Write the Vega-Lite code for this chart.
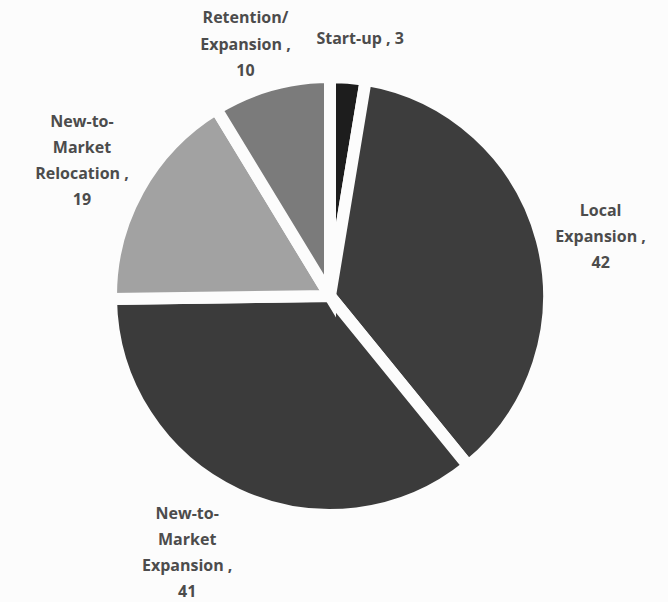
{
  "$schema": "https://vega.github.io/schema/vega-lite/v6.json",
  "width": 660,
  "height": 592,
  "autosize": "none",
  "padding": {"left": 0, "top": 0, "right": 8, "bottom": 10},
  "background": "#fcfcfc",
  "view": {"stroke": null},
  "data": {
    "values": [
      {"category": "Start-up", "label": "Start-up , 3", "count": 3, "order": 1},
      {"category": "Local Expansion", "label": "Local|Expansion ,|42", "count": 42, "order": 2},
      {"category": "New-to-Market Expansion", "label": "New-to-|Market|Expansion ,|41", "count": 41, "order": 3},
      {"category": "New-to-Market Relocation", "label": "New-to-|Market|Relocation ,|19", "count": 19, "order": 4},
      {"category": "Retention/Expansion", "label": "Retention/|Expansion ,|10", "count": 10, "order": 5}
    ]
  },
  "transform": [
    {"stack": "count", "groupby": [], "sort": [{"field": "order", "order": "ascending"}], "as": ["start", "end"]},
    {"calculate": "(datum.start + datum.end) / 2", "as": "mid"}
  ],
  "resolve": {"scale": {"theta": "shared"}},
  "layer": [
    {
      "mark": {"type": "arc", "outerRadius": 219, "stroke": "#fcfcfc", "strokeWidth": 12},
      "encoding": {
        "theta": {"field": "end", "type": "quantitative", "stack": null, "scale": {"zero": true}},
        "theta2": {"field": "start"},
        "color": {
          "field": "category",
          "type": "nominal",
          "legend": null,
          "scale": {
            "domain": ["Start-up", "Local Expansion", "New-to-Market Expansion", "New-to-Market Relocation", "Retention/Expansion"],
            "range": ["#1d1d1d", "#3d3d3d", "#3b3b3b", "#a2a2a2", "#7b7b7b"]
          }
        }
      }
    },
    {
      "transform": [{"filter": "datum.category === 'Start-up'"}],
      "mark": {"type": "text", "radius": 258, "dx": 9, "dy": 0, "font": "Open Sans", "fontWeight": "bold", "fontSize": 16, "lineHeight": 26, "lineBreak": "|", "align": "center", "baseline": "middle", "fill": "#4c4c4c"},
      "encoding": {"theta": {"field": "mid", "type": "quantitative", "stack": null}, "text": {"field": "label", "type": "nominal"}}
    },
    {
      "transform": [{"filter": "datum.category === 'Local Expansion'"}],
      "mark": {"type": "text", "radius": 280, "dx": 0, "dy": -13, "font": "Open Sans", "fontWeight": "bold", "fontSize": 16, "lineHeight": 26, "lineBreak": "|", "align": "center", "baseline": "middle", "fill": "#4c4c4c"},
      "encoding": {"theta": {"field": "mid", "type": "quantitative", "stack": null}, "text": {"field": "label", "type": "nominal"}}
    },
    {
      "transform": [{"filter": "datum.category === 'New-to-Market Expansion'"}],
      "mark": {"type": "text", "radius": 250, "dx": -37, "dy": -8, "font": "Open Sans", "fontWeight": "bold", "fontSize": 16, "lineHeight": 26, "lineBreak": "|", "align": "center", "baseline": "middle", "fill": "#4c4c4c"},
      "encoding": {"theta": {"field": "mid", "type": "quantitative", "stack": null}, "text": {"field": "label", "type": "nominal"}}
    },
    {
      "transform": [{"filter": "datum.category === 'New-to-Market Relocation'"}],
      "mark": {"type": "text", "radius": 280, "dx": -3, "dy": -38, "font": "Open Sans", "fontWeight": "bold", "fontSize": 16, "lineHeight": 26, "lineBreak": "|", "align": "center", "baseline": "middle", "fill": "#4c4c4c"},
      "encoding": {"theta": {"field": "mid", "type": "quantitative", "stack": null}, "text": {"field": "label", "type": "nominal"}}
    },
    {
      "transform": [{"filter": "datum.category === 'Retention/Expansion'"}],
      "mark": {"type": "text", "radius": 280, "dx": -9, "dy": -8, "font": "Open Sans", "fontWeight": "bold", "fontSize": 16, "lineHeight": 26.5, "lineBreak": "|", "align": "center", "baseline": "middle", "fill": "#4c4c4c"},
      "encoding": {"theta": {"field": "mid", "type": "quantitative", "stack": null}, "text": {"field": "label", "type": "nominal"}}
    }
  ]
}
